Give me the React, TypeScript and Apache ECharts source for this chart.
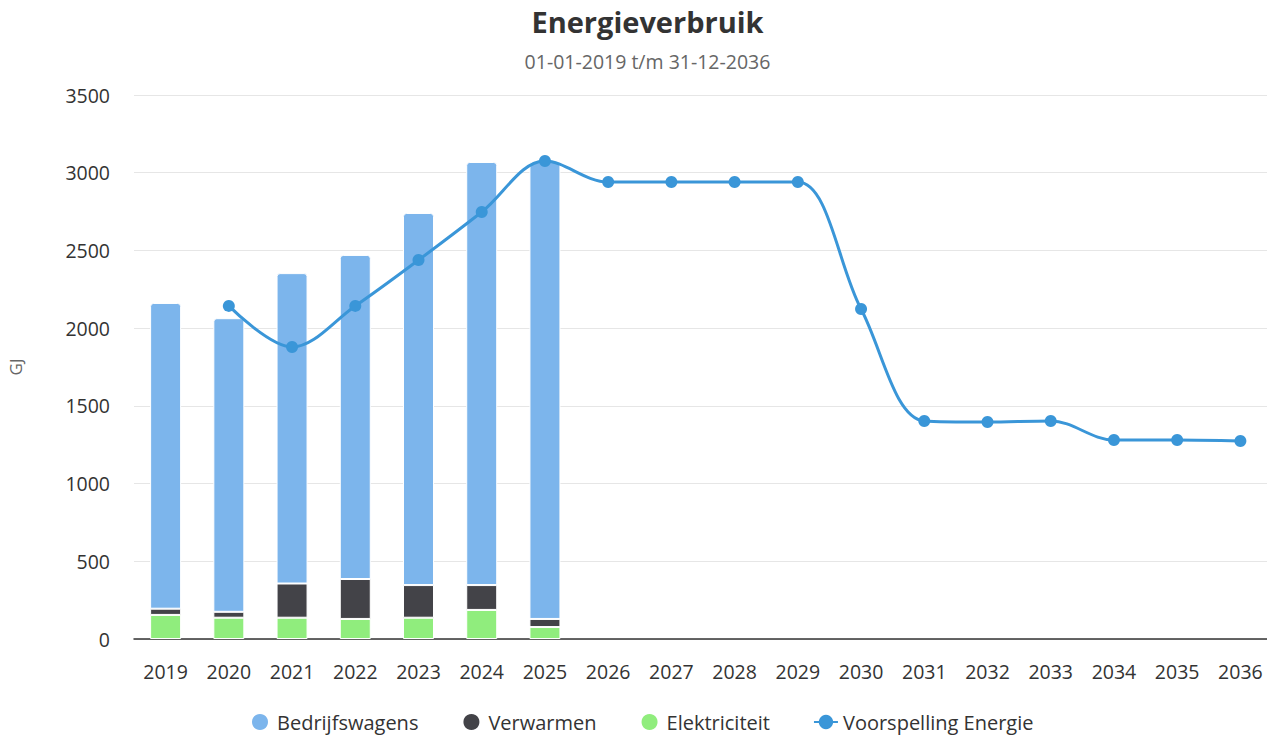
import React, { useEffect, useRef } from "react";
import * as echarts from "echarts";

const years = ["2019","2020","2021","2022","2023","2024","2025","2026","2027","2028","2029","2030","2031","2032","2033","2034","2035","2036"];
const bedrijfswagens = [1967, 1889, 1997, 2085, 2394, 2722, 2943, null, null, null, null, null, null, null, null, null, null, null];
const verwarmen = [40, 38, 220, 257, 210, 160, 52, null, null, null, null, null, null, null, null, null, null, null];
const elektriciteit = [155, 137, 137, 129, 137, 187, 77, null, null, null, null, null, null, null, null, null, null, null];
const voorspelling = [null, 2143, 1879, 2143, 2438, 2747, 3075, 2940, 2940, 2940, 2940, 2123, 1403, 1396, 1403, 1280, 1280, 1274];
const yTicks = { min: 0, max: 3500, interval: 500 };

const FONT = "'Open Sans', 'Noto Sans', sans-serif";

export default function App() {
  const ref = useRef<HTMLDivElement>(null);
  useEffect(() => {
    if (!ref.current) return;
    const chart = echarts.init(ref.current, undefined, { renderer: "svg" });
    const barBorder = { borderColor: "#ffffff", borderWidth: 1 };
    chart.setOption({
      animation: false,
      textStyle: { fontFamily: FONT },
      title: {
        text: "Energieverbruik",
        subtext: "01-01-2019 t/m 31-12-2036",
        left: "center",
        top: 2,
        itemGap: 15,
        textStyle: { fontFamily: FONT, fontSize: 29, fontWeight: "bold", color: "#333333" },
        subtextStyle: { fontFamily: FONT, fontSize: 19.5, color: "#666666" },
      },
      legend: {
        bottom: 3,
        left: 245,
        padding: [5, 5, 1, 5],
        itemGap: 43,
        itemWidth: 24,
        itemHeight: 18,
        textStyle: { fontFamily: FONT, fontSize: 20, color: "#333333" },
        data: [
          { name: "Bedrijfswagens", icon: "circle" },
          { name: "Verwarmen", icon: "circle" },
          { name: "Elektriciteit", icon: "circle" },
          { name: "Voorspelling Energie" },
        ],
      },
      grid: { left: 134, top: 95, width: 1138, height: 544, containLabel: false, outerBoundsMode: "none" },
      xAxis: {
        type: "category",
        data: years,
        axisLine: { lineStyle: { color: "#333333", width: 1.5 } },
        axisTick: { show: false },
        axisLabel: { fontFamily: FONT, fontSize: 19.5, color: "#333333", margin: 22 },
      },
      yAxis: {
        type: "value",
        min: yTicks.min,
        max: yTicks.max,
        interval: yTicks.interval,
        name: "GJ",
        nameLocation: "middle",
        nameGap: 110,
        nameRotate: 90,
        nameTextStyle: { fontFamily: FONT, fontSize: 17, color: "#666666" },
        axisLine: { show: false },
        axisTick: { show: false },
        axisLabel: { fontFamily: FONT, fontSize: 19.5, color: "#333333", margin: 24, formatter: (v: number) => String(v) },
        splitLine: { lineStyle: { color: "#e6e6e6", width: 1 } },
      },
      series: [
        {
          name: "Elektriciteit",
          type: "bar",
          stack: "total",
          barWidth: 31,
          data: elektriciteit,
          itemStyle: { color: "#90ed7d", ...barBorder },
        },
        {
          name: "Verwarmen",
          type: "bar",
          stack: "total",
          barWidth: 31,
          data: verwarmen,
          itemStyle: { color: "#434348", ...barBorder },
        },
        {
          name: "Bedrijfswagens",
          type: "bar",
          stack: "total",
          barWidth: 31,
          data: bedrijfswagens,
          itemStyle: { color: "#7cb5ec", borderRadius: [3, 3, 0, 0], ...barBorder },
        },
        {
          name: "Voorspelling Energie",
          type: "line",
          data: voorspelling,
          smooth: 0.35,
          symbol: "circle",
          symbolSize: 12,
          lineStyle: { color: "#3a96d8", width: 3 },
          itemStyle: { color: "#3a96d8" },
          z: 5,
        },
      ],
    });
    return () => chart.dispose();
  }, []);
  return (
    <div style={{ position: "fixed", left: 0, top: 0, width: 1267, height: 736, overflow: "hidden", background: "#fff" }}>
      <div ref={ref} style={{ width: 1295, height: 736 }} />
    </div>
  );
}
